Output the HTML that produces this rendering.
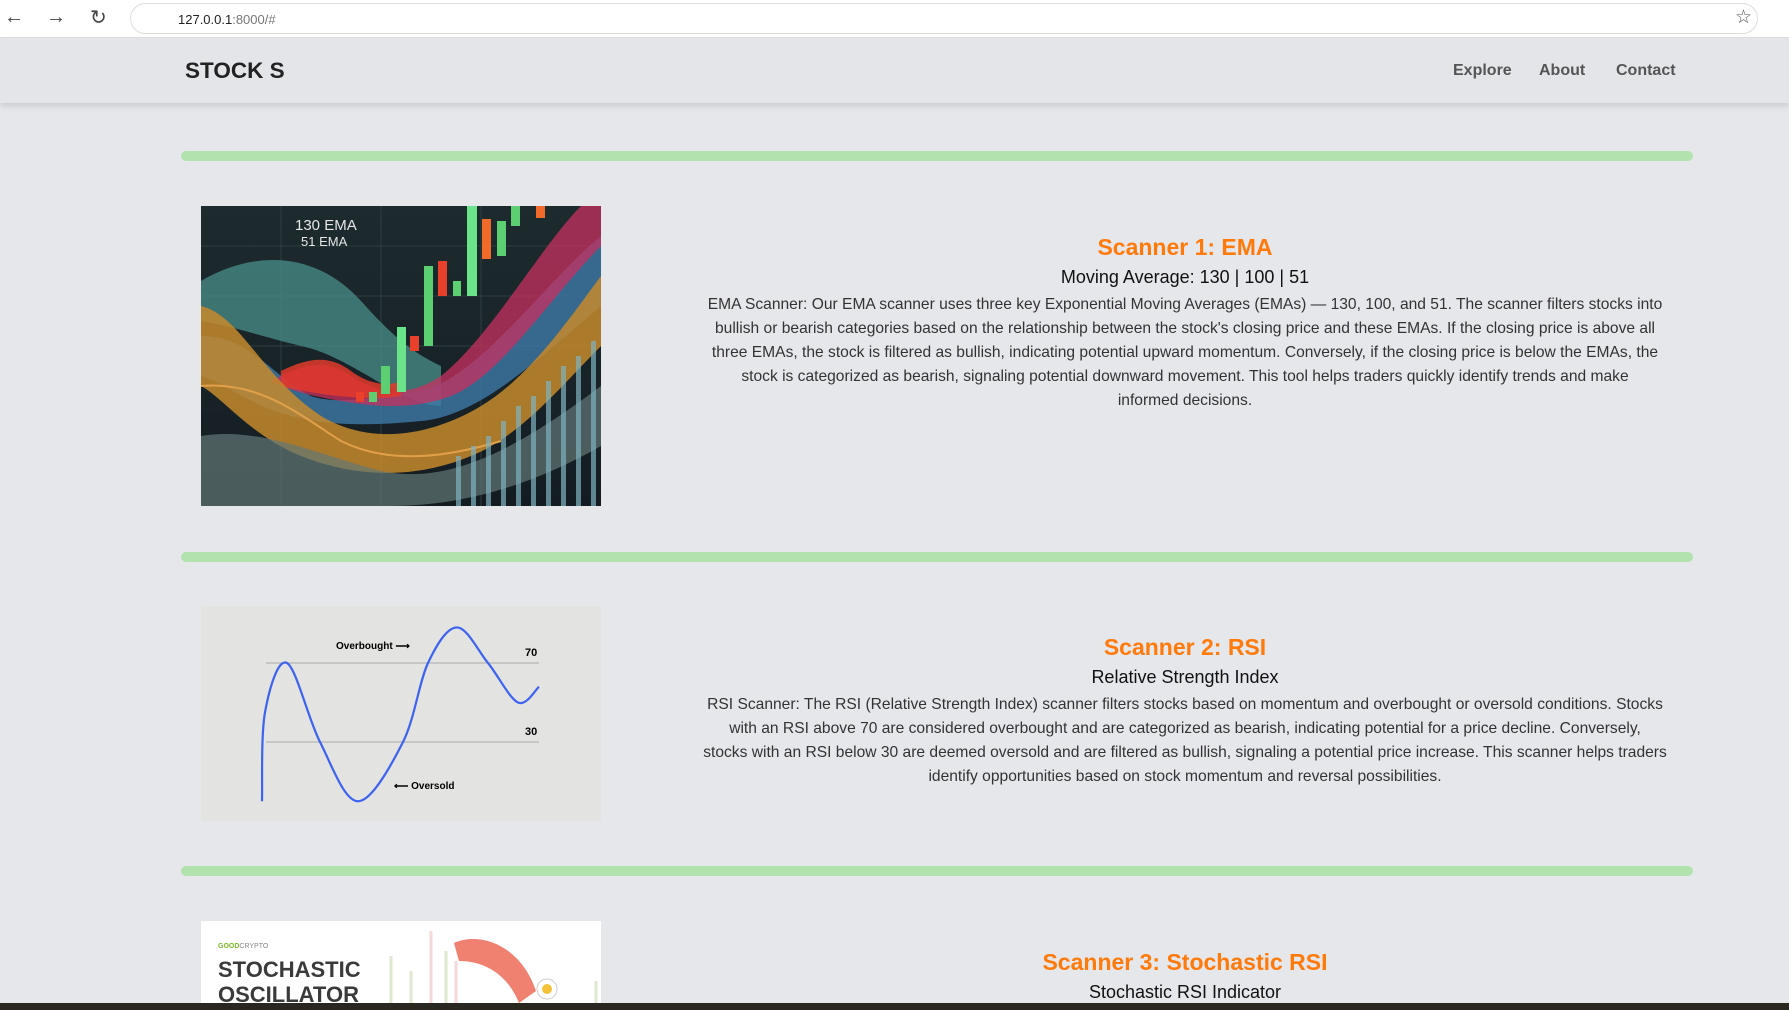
<!DOCTYPE html>
<html><head><meta charset="utf-8"><style>
*{margin:0;padding:0;box-sizing:border-box}
body{width:1789px;height:1010px;overflow:hidden;background:#e6e7eb;font-family:"Liberation Sans",sans-serif;position:relative}
.abs{position:absolute}
.browser{left:0;top:0;width:1789px;height:38px;background:#fff;border-bottom:1px solid #ddd}
.url{left:130px;top:3px;width:1628px;height:31px;border:1px solid #ddd;border-radius:16px;background:#fff;font-size:13px;color:#222;padding:8px 0 0 47px}
.nav{left:0;top:38px;width:1789px;height:65px;background:#e4e5e9;box-shadow:0 3px 6px rgba(0,0,0,.12)}
.brand{left:185px;top:58px;font-size:22.5px;font-weight:bold;color:#222}
.link{top:62px;font-size:16px;color:#555;font-weight:bold}
.bar{left:181px;width:1512px;height:10px;border-radius:5px;background:#b2e3ae}
.txt{left:640px;width:1090px;text-align:center;color:#333}
.t{font-size:23px;font-weight:bold;color:#ff7a0a;line-height:30px}
.s{font-size:18px;color:#111;line-height:26px;margin-top:2px}
.p{font-size:15.6px;line-height:24px;white-space:nowrap;margin-top:3px}
</style></head><body>
<div class="abs browser">
<span class="abs" style="left:4px;top:6px;font-size:20px;color:#444">←</span>
<span class="abs" style="left:46px;top:6px;font-size:20px;color:#444">→</span>
<span class="abs" style="left:90px;top:5px;font-size:20px;color:#444">↻</span>
<div class="abs url">127.0.0.1<span style="color:#777">:8000/#</span></div>
<span class="abs" style="left:1735px;top:6px;font-size:19px;color:#555">☆</span>
</div>
<div class="abs nav"></div>
<div class="abs brand">STOCK S</div>
<div class="abs link" style="left:1453px">Explore</div>
<div class="abs link" style="left:1539px">About</div>
<div class="abs link" style="left:1616px">Contact</div>

<div class="abs bar" style="top:151px"></div>
<div class="abs bar" style="top:552px"></div>
<div class="abs bar" style="top:866px"></div>

<svg class="abs" style="left:201px;top:206px" width="400" height="300">
<defs>
<linearGradient id="bg1" x1="0" y1="0" x2="0" y2="1"><stop offset="0" stop-color="#1d2b2e"/><stop offset="1" stop-color="#141c22"/></linearGradient>
</defs>
<rect width="400" height="300" fill="url(#bg1)"/>
<g stroke="#2e3d40" stroke-width="1">
<line x1="0" y1="40" x2="400" y2="40"/><line x1="0" y1="90" x2="400" y2="90"/><line x1="0" y1="140" x2="400" y2="140"/>
<line x1="80" y1="0" x2="80" y2="300"/><line x1="180" y1="0" x2="180" y2="300"/><line x1="280" y1="0" x2="280" y2="300"/>
</g>
<path d="M0,75 C60,40 120,50 160,95 C200,140 220,150 240,160 L240,200 C200,200 150,150 100,140 C60,130 30,120 0,115Z" fill="#4a8f8a" opacity=".75"/>
<path d="M0,130 C50,130 70,170 110,190 C140,200 180,190 220,185 C280,170 340,80 400,30 L400,100 C340,150 280,210 220,215 C170,220 130,220 90,210 C50,200 30,180 0,170Z" fill="#3f79a8" opacity=".8"/>
<path d="M70,175 C100,160 120,150 150,170 C180,190 210,190 240,170 C290,130 340,40 380,0 L400,0 L400,40 C350,90 300,170 250,190 C210,205 170,200 140,195 C110,190 90,185 70,175Z" fill="#c83060" opacity=".75"/>
<path d="M80,165 C110,150 130,150 150,165 C170,180 190,180 200,175 L200,190 C170,195 120,190 80,180Z" fill="#e23a2a" opacity=".85"/>
<path d="M0,100 C40,110 60,170 120,210 C170,240 230,230 280,200 C330,170 370,110 400,70 L400,140 C360,180 320,230 270,250 C210,275 150,270 100,250 C50,230 20,190 0,180Z" fill="#c58a2c" opacity=".85"/>
<path d="M0,230 C60,220 120,250 180,265 C250,280 320,240 400,180 L400,240 C330,280 260,300 190,300 L0,300Z" fill="#627876" opacity=".7"/>
<path d="M0,180 C60,175 100,210 140,235 C190,260 250,250 300,235" stroke="#e0a04a" stroke-width="2" fill="none"/>
<g fill="#7fb3c0" opacity=".7">
<rect x="255" y="250" width="5" height="50"/><rect x="270" y="240" width="5" height="60"/><rect x="285" y="230" width="5" height="70"/><rect x="300" y="215" width="5" height="85"/><rect x="315" y="200" width="5" height="100"/><rect x="330" y="190" width="5" height="110"/><rect x="345" y="175" width="5" height="125"/><rect x="360" y="160" width="5" height="140"/><rect x="375" y="150" width="5" height="150"/><rect x="390" y="135" width="5" height="165"/>
</g>
<g>
<rect x="155" y="186" width="8" height="10" fill="#e8402a"/><rect x="168" y="186" width="8" height="10" fill="#5ccf72"/><rect x="180" y="160" width="9" height="28" fill="#5ccf72"/><rect x="196" y="121" width="9" height="65" fill="#6be38a"/><rect x="209" y="130" width="9" height="15" fill="#e8402a"/><rect x="223" y="60" width="9" height="80" fill="#5ccf72"/><rect x="237" y="55" width="9" height="35" fill="#e8402a"/><rect x="252" y="75" width="8" height="15" fill="#5ccf72"/><rect x="266" y="0" width="10" height="90" fill="#6be38a"/><rect x="281" y="13" width="9" height="40" fill="#f06a2a"/><rect x="296" y="15" width="9" height="35" fill="#5ccf72"/><rect x="310" y="0" width="9" height="20" fill="#5ccf72"/><rect x="335" y="0" width="9" height="12" fill="#f06a2a"/>
</g>
<text x="94" y="24" fill="#e6e6e6" font-size="15">130 EMA</text>
<text x="100" y="40" fill="#e6e6e6" font-size="13">51 EMA</text>
</svg>
<div class="abs txt" style="top:232px">
<div class="t">Scanner 1: EMA</div>
<div class="s">Moving Average: 130 | 100 | 51</div>
<div class="p">EMA Scanner: Our EMA scanner uses three key Exponential Moving Averages (EMAs) — 130, 100, and 51. The scanner filters stocks into<br>bullish or bearish categories based on the relationship between the stock's closing price and these EMAs. If the closing price is above all<br>three EMAs, the stock is filtered as bullish, indicating potential upward momentum. Conversely, if the closing price is below the EMAs, the<br>stock is categorized as bearish, signaling potential downward movement. This tool helps traders quickly identify trends and make<br>informed decisions.</div>
</div>

<svg id="rsi" class="abs" style="left:201px;top:606px" width="400" height="215">
<rect width="400" height="215" fill="#e3e3e1"/>
</svg>
<div class="abs txt" style="top:632px">
<div class="t">Scanner 2: RSI</div>
<div class="s">Relative Strength Index</div>
<div class="p">RSI Scanner: The RSI (Relative Strength Index) scanner filters stocks based on momentum and overbought or oversold conditions. Stocks<br>with an RSI above 70 are considered overbought and are categorized as bearish, indicating potential for a price decline. Conversely,<br>stocks with an RSI below 30 are deemed oversold and are filtered as bullish, signaling a potential price increase. This scanner helps traders<br>identify opportunities based on stock momentum and reversal possibilities.</div>
</div>

<svg class="abs" style="left:201px;top:921px" width="400" height="82">
<rect width="400" height="82" fill="#fff"/>
<g stroke="#dfe9d2" stroke-width="3"><line x1="190" y1="35" x2="190" y2="82"/><line x1="210" y1="50" x2="210" y2="82"/><line x1="245" y1="30" x2="245" y2="82"/><line x1="395" y1="60" x2="395" y2="82"/></g>
<g stroke="#f6d8d8" stroke-width="3"><line x1="230" y1="10" x2="230" y2="82"/><line x1="255" y1="40" x2="255" y2="82"/></g>
<path d="M253,22 C280,10 320,25 335,70 L318,82 C305,50 280,40 258,40Z" fill="#f08070"/>
<circle cx="346" cy="68" r="10" fill="#fff" stroke="#ccc"/><circle cx="346" cy="68" r="5" fill="#f3c23a"/>
<text x="17" y="27" font-size="7" font-weight="bold" fill="#7ab82a">GOOD<tspan fill="#888" font-weight="normal">CRYPTO</tspan></text>
<text x="17" y="56" font-size="22" font-weight="bold" fill="#3a3a3a">STOCHASTIC</text>
<text x="17" y="81" font-size="22" font-weight="bold" fill="#3a3a3a">OSCILLATOR</text>
</svg>
<div class="abs txt" style="top:947px">
<div class="t">Scanner 3: Stochastic RSI</div>
<div class="s">Stochastic RSI Indicator</div>
</div>
<div class="abs" style="left:0;top:1003px;width:1789px;height:7px;background:#2a2620"></div>

<script>
const rsiTime = [0, 3, 25, 58, 96, 141, 166, 195, 226, 256, 277];
const rsiValues = [0, 45, 70, 30, 0, 30, 70, 88, 70, 50, 58];
const levelValues = [70, 30];
const levelLabels = ['70', '30'];
const NS = 'http://www.w3.org/2000/svg';
const svg = document.getElementById('rsi');
const xS = t => 61 + t;
const yS = v => 136 - (v - 30) * 1.975;
levelValues.forEach((v, i) => {
  const l = document.createElementNS(NS, 'line');
  
  
  l.setAttribute('x1', 65); l.setAttribute('x2', 338);
  l.setAttribute('y1', yS(v)); l.setAttribute('y2', yS(v));
  l.setAttribute('stroke', '#a8a8a8'); l.setAttribute('stroke-width', '1');
  svg.appendChild(l);
  const tx = document.createElementNS(NS, 'text');
  
  
  tx.setAttribute('x', 324); tx.setAttribute('y', yS(v) - 7);
  tx.setAttribute('font-size', '11'); tx.setAttribute('font-weight', 'bold');
  tx.textContent = levelLabels[i];
  svg.appendChild(tx);
});
const pts = rsiTime.map((t, i) => [xS(t), yS(rsiValues[i])]);
let d = 'M' + pts[0][0] + ',' + pts[0][1];
for (let i = 0; i < pts.length - 1; i++) {
  const p0 = pts[Math.max(0, i - 1)], p1 = pts[i], p2 = pts[i + 1], p3 = pts[Math.min(pts.length - 1, i + 2)];
  const c1 = [p1[0] + (p2[0] - p0[0]) / 6, p1[1] + (p2[1] - p0[1]) / 6];
  const c2 = [p2[0] - (p3[0] - p1[0]) / 6, p2[1] - (p3[1] - p1[1]) / 6];
  d += ' C' + c1.join(',') + ' ' + c2.join(',') + ' ' + p2.join(',');
}
const path = document.createElementNS(NS, 'path');


path.setAttribute('d', d); path.setAttribute('fill', 'none');
path.setAttribute('stroke', '#3d63f0'); path.setAttribute('stroke-width', '2.2');
svg.appendChild(path);
function label(x, y, s, name) {
  const t = document.createElementNS(NS, 'text');
  
  
  t.setAttribute('x', x); t.setAttribute('y', y);
  t.setAttribute('font-size', '10'); t.setAttribute('font-weight', 'bold');
  t.textContent = s; svg.appendChild(t);
}
label(135, 43, 'Overbought ⟶', 'overbought-label');
label(193, 183, '⟵ Oversold', 'oversold-label');
</script>
</body></html>
